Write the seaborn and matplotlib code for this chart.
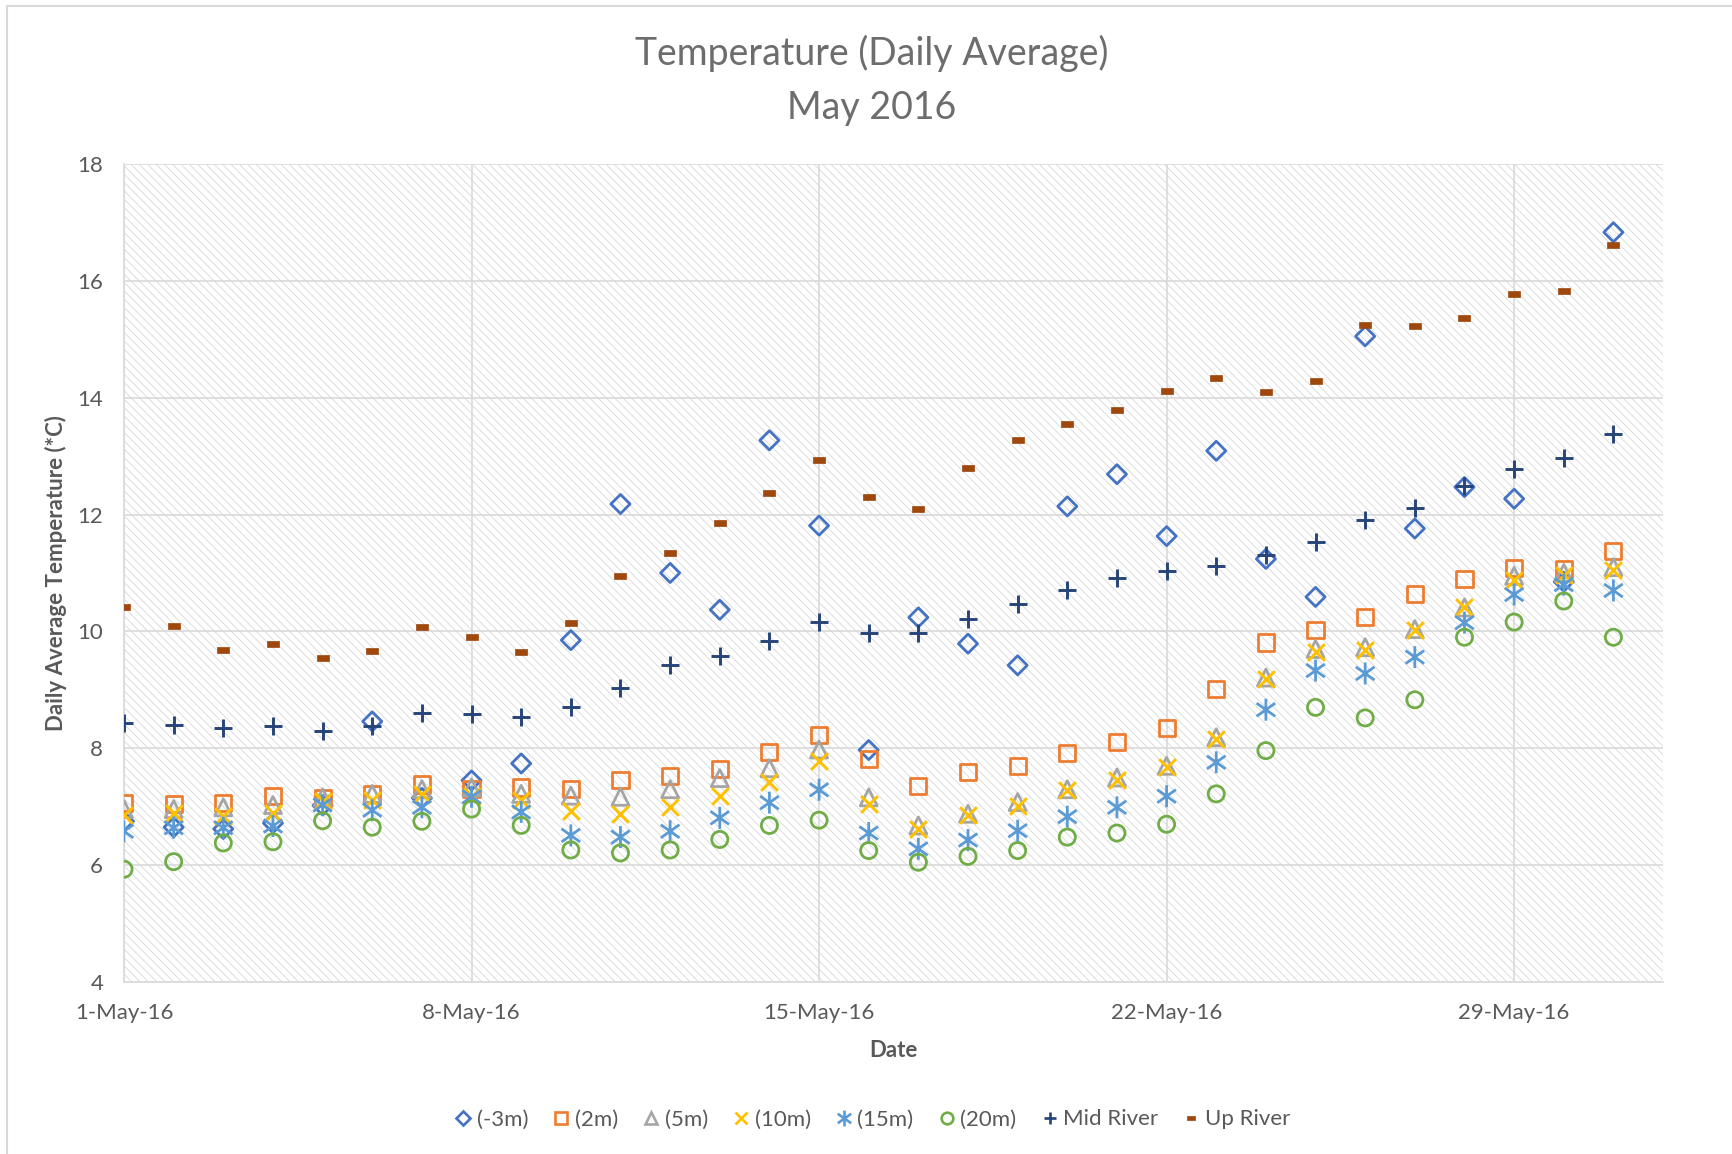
import numpy as np
import pandas as pd
import matplotlib
matplotlib.use('Agg')
import matplotlib.pyplot as plt
import matplotlib.dates as mdates
from matplotlib.path import Path
from matplotlib.patches import Rectangle
from matplotlib.lines import Line2D
import seaborn as sns

# daily values, 1-May-16 .. 31-May-16
dates = pd.date_range('2016-05-01', '2016-05-31', freq='D')

minus3m = [6.75, 6.65, 6.62, 6.72, 7.02, 8.46, 7.15, 7.45, 7.74, 9.85, 12.18, 11.00, 10.37, 13.27, 11.81, 7.97,
           10.24, 9.79, 9.42, 12.14, 12.69, 11.63, 13.09, 11.24, 10.59, 15.05, 11.76, 12.47, 12.27, 10.85, 16.83]
d2m = [7.06, 7.04, 7.06, 7.18, 7.15, 7.22, 7.38, 7.30, 7.33, 7.30, 7.45, 7.53, 7.65, 7.93, 8.23, 7.82,
       7.36, 7.59, 7.69, 7.92, 8.11, 8.34, 9.01, 9.81, 10.02, 10.25, 10.64, 10.89, 11.08, 11.07, 11.37]
d5m = [6.96, 6.96, 6.99, 7.03, 7.16, 7.22, 7.30, 7.33, 7.22, 7.19, 7.17, 7.30, 7.49, 7.66, 7.98, 7.16,
       6.68, 6.88, 7.08, 7.30, 7.50, 7.70, 8.19, 9.21, 9.70, 9.73, 10.04, 10.41, 10.95, 11.00, 11.10]
d10m = [6.85, 6.90, 6.84, 6.90, 7.10, 7.12, 7.21, 7.19, 7.11, 6.92, 6.88, 6.99, 7.19, 7.42, 7.78, 7.05,
        6.62, 6.85, 7.02, 7.28, 7.45, 7.68, 8.16, 9.19, 9.65, 9.68, 10.02, 10.41, 10.88, 10.96, 11.05]
d15m = [6.58, 6.64, 6.64, 6.67, 7.03, 6.94, 6.99, 7.17, 6.91, 6.51, 6.48, 6.58, 6.81, 7.07, 7.29, 6.55,
        6.28, 6.43, 6.59, 6.83, 6.99, 7.18, 7.76, 8.66, 9.33, 9.28, 9.56, 10.15, 10.63, 10.80, 10.70]
d20m = [5.93, 6.06, 6.38, 6.40, 6.76, 6.65, 6.75, 6.96, 6.68, 6.26, 6.21, 6.26, 6.44, 6.68, 6.77, 6.25,
        6.05, 6.15, 6.25, 6.48, 6.55, 6.70, 7.22, 7.96, 8.70, 8.52, 8.83, 9.90, 10.16, 10.52, 9.90]
mid_river = [8.43, 8.39, 8.34, 8.38, 8.30, 8.38, 8.60, 8.59, 8.53, 8.71, 9.03, 9.43, 9.58, 9.83, 10.16, 9.97,
             9.97, 10.22, 10.47, 10.71, 10.91, 11.04, 11.12, 11.31, 11.53, 11.91, 12.11, 12.49, 12.78, 12.96, 13.38]
up_river = [10.41, 10.10, 9.68, 9.78, 9.54, 9.66, 10.07, 9.90, 9.64, 10.15, 10.95, 11.35, 11.85, 12.36, 12.93, 12.30,
            12.10, 12.79, 13.28, 13.55, 13.78, 14.11, 14.33, 14.10, 14.29, 15.25, 15.22, 15.37, 15.77, 15.82, 16.61]

series_names = ['(-3m)', '(2m)', '(5m)', '(10m)', '(15m)', '(20m)', 'Mid River', 'Up River']
series_values = [minus3m, d2m, d5m, d10m, d15m, d20m, mid_river, up_river]

# excel-ish marker shapes
star_path = Path([(0, -1), (0, 1), (-0.85, -0.6), (0.85, 0.6), (-0.85, 0.6), (0.85, -0.6)],
                 [Path.MOVETO, Path.LINETO, Path.MOVETO, Path.LINETO, Path.MOVETO, Path.LINETO])
dash_path = Path([(-1, -0.45), (1, -0.45), (1, 0.45), (-1, 0.45), (-1, -0.45)],
                 [Path.MOVETO, Path.LINETO, Path.LINETO, Path.LINETO, Path.CLOSEPOLY])

styles = [
    dict(marker='D', s=95, c='#4472C4', open=True),
    dict(marker='s', s=135, c='#ED7D31', open=True),
    dict(marker='^', s=150, c='#A5A5A5', open=True),
    dict(marker='x', s=145, c='#FFC000', open=False),
    dict(marker=star_path, s=250, c='#5B9BD5', open=True),
    dict(marker='o', s=135, c='#70AD47', open=True),
    dict(marker='+', s=150, c='#264478', open=False),
    dict(marker=dash_path, s=72, c='#9E480E', open=False),
]

sns.set_style('white')
plt.rcParams['font.family'] = ['Lato', 'DejaVu Sans']
plt.rcParams['hatch.linewidth'] = 0.55

fig = plt.figure(figsize=(17.32, 11.54), dpi=100)
ax = fig.add_axes([0.0716, 0.149, 0.8886, 0.709])

# hatched plot area
ax.add_patch(Rectangle((0, 0), 1, 1, transform=ax.transAxes, facecolor='white',
                       edgecolor='#d4d4d4', hatch='\\\\\\\\', linewidth=0, zorder=0))

handles = []
for name, vals, st in zip(series_names, series_values, styles):
    df = pd.DataFrame({'date': dates, 'temp': vals})
    is_dash = st['marker'] is dash_path
    if st['open']:
        sns.scatterplot(data=df, x='date', y='temp', marker=st['marker'], s=st['s'],
                        facecolor='none', edgecolor=st['c'], linewidth=2.0, ax=ax, zorder=3)
    else:
        sns.scatterplot(data=df, x='date', y='temp', marker=st['marker'], s=st['s'],
                        color=st['c'], edgecolor=st['c'], linewidth=0.5 if is_dash else 2.1,
                        ax=ax, zorder=3)
    handles.append(Line2D([], [], linestyle='none', marker=st['marker'],
                          markersize=np.sqrt(st['s']) * 0.72,
                          markerfacecolor='none' if st['open'] else st['c'],
                          markeredgecolor=st['c'], markeredgewidth=0.5 if is_dash else 1.9,
                          label=name))

ax.set_xlim(pd.Timestamp('2016-05-01'), pd.Timestamp('2016-06-01'))
ax.set_ylim(4, 18)
ax.set_yticks(np.arange(4, 19, 2))
ax.set_xticks(pd.to_datetime(['2016-05-01', '2016-05-08', '2016-05-15', '2016-05-22', '2016-05-29']))
ax.xaxis.set_major_formatter(mdates.DateFormatter('%-d-%b-%y'))

ax.set_axisbelow(True)
ax.grid(True, color='#d9d9d9', linewidth=1.2)
for line in ax.get_xgridlines() + ax.get_ygridlines():
    line.set_zorder(1)
for side in ['top', 'right']:
    ax.spines[side].set_visible(False)
for side in ['left', 'bottom']:
    ax.spines[side].set_color('#d9d9d9')
    ax.spines[side].set_linewidth(1.2)
ax.tick_params(axis='both', length=0, labelsize=16, labelcolor='#595959')
ax.tick_params(axis='x', pad=15)
ax.tick_params(axis='y', pad=15)

ax.set_xlabel('Date', fontsize=16, fontweight='bold', color='#595959')
ax.set_ylabel('Daily Average Temperature (*C)', fontsize=16, fontweight='bold', color='#595959')
ax.xaxis.set_label_coords(0.5, -0.071)
ax.yaxis.set_label_coords(-0.037, 0.5)

fig.text(0.5035, 0.930, 'Temperature (Daily Average)\nMay 2016', ha='center', va='center',
         fontsize=27, color='#6d6d6d', linespacing=1.62)

fig.legend(handles=handles, loc='center', bbox_to_anchor=(0.503, 0.030), ncol=8, frameon=False,
           fontsize=16, labelcolor='#595959', handletextpad=0.1, columnspacing=1.0, handlelength=1.0)

# chart frame (left and top edges visible in the screenshot)
fig.add_artist(Line2D([7 / 1732, 7 / 1732], [0, 1 - 6 / 1154], transform=fig.transFigure,
                      color='#d9d9d9', linewidth=1.5))
fig.add_artist(Line2D([7 / 1732, 1], [1 - 6 / 1154, 1 - 6 / 1154], transform=fig.transFigure,
                      color='#d9d9d9', linewidth=1.5))

fig.savefig('out.png', dpi=100, facecolor='white')
